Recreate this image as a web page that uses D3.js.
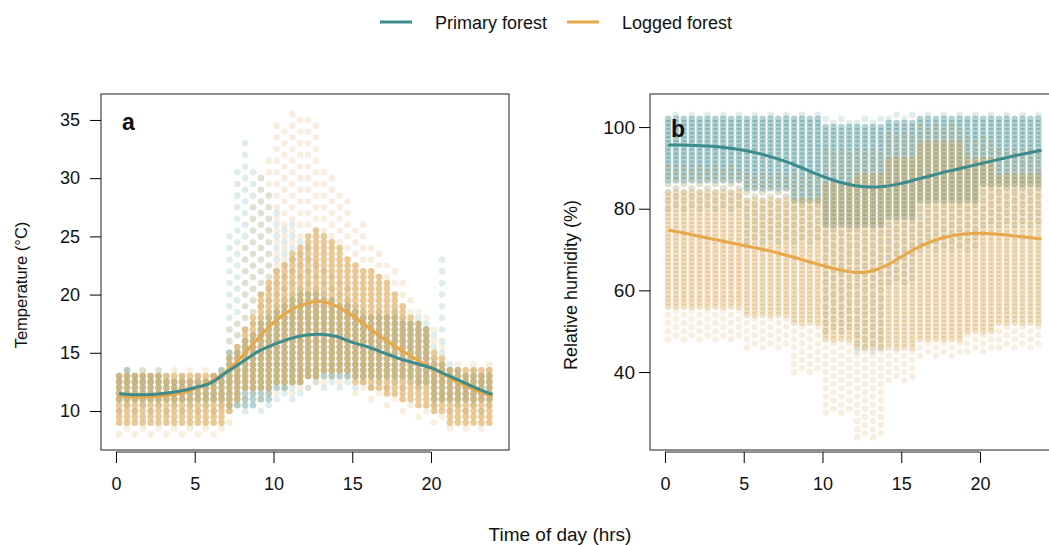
<!DOCTYPE html>
<html>
<head>
<meta charset="utf-8">
<script src="https://cdn.jsdelivr.net/npm/d3@7"></script>
<style>
  body { margin: 0; background: #fff; }
  text { font-family: "Liberation Sans", Arial, Helvetica, sans-serif; fill: #111; }
</style>
</head>
<body>
<div id="chart"></div>
<script>
// half-hourly logger columns (hrs)
var colTimes = d3.range(48).map(function(i) { return 0.2 + 0.5 * i; });
// smoother fit points (hrs)
var lineTimes = [0.2,1,2,3,4,5,6,7,8,9,10,11,12,13,14,15,16,17,18,19,20,21,22,23,23.9];

// ---- panel a : temperature (C), read per column: dense core + sparse tails
var tempPrimCoreLo = [11,11,11,11,11,11,11,11,11,11,11,11,11,11,10.5,10.5,10.5,10.5,11,11,12,12,12.5,12.5,13,13,13,13,13,13,13,13,13,13,13,13,13,13,12.5,12.5,11,11,11,11,11,11,11,11];
var tempPrimCoreHi = [13,13.5,13,13,13,13,12.5,12.5,12.5,12.5,12.5,12.5,13,13.5,15,15,16,16.5,17.5,18,18.5,19,19.5,20,20,20,19.5,19.5,19,19,18.5,18,18,18,18,18,17.5,17.5,17.5,17,14,14,13.5,13.5,13,13,13,13];
var tempPrimTailLo = [10,10,10,10,10,10,10,10,10,10,10,10,10,10,10,10,10,10,10,10,11,11,11,11,12,12,12,12,12,12,12,12,12,12,12,12,12,12,12,12,10.5,10.5,10,10,10,10,10,10];
var tempPrimTailHi = [13.5,14,13.5,13.5,13.5,13.5,13,13,13,13,13,13,13.5,14,25,31,33,31,30,29,27,26,26,25,24,23,22,22,21,21,19,18.5,18.5,18.5,18.5,18.5,18,18,18,17.5,17,23.5,14,14,13.5,13.5,13.5,13.5];

var tempLogCoreLo = [9,9,9,9,9,9,9,9,9,9,9,9,9,9,10,11,12,12,12,12,12.5,12.5,12.5,12.5,13,13,13.5,13.5,13.5,13.5,12.5,12.5,12,12,11.5,11.5,11,11,10.5,10.5,10,10,9,9,9,9,9,9];
var tempLogCoreHi = [13,13,13,13,13,13,13,13,13,13,13,13,13,13,14.5,15.5,17,18,20,21,22,22.5,23.5,24,25,25.5,25,24.5,24,23,22.5,22,22,21.5,21,20,19,18,17.5,17,15,14.5,13.5,13.5,13.5,13.5,13.5,13.5];
var tempLogTailLo = [8,8,8,8,8,8,8,8,8,8,8,8,8,8,9,10,11,11,11,11,11.5,11.5,11.5,11.5,12,12,12.5,12.5,12.5,12.5,11.5,11.5,11,11,10.5,10.5,10,10,9.5,9.5,9,9,8.5,8.5,8.5,8.5,8.5,8.5];
var tempLogTailHi = [13.5,13.5,13.5,13.5,13.5,13.5,13.5,13.5,13.5,13.5,13.5,13.5,13.5,13.5,17,18,24,28,30,32,35,34,36,35,35.5,35,31,30,29,28,26,26,24,23.5,23,22,21,20,19,18,17,16,14,14,14,14,14,14];

var tempPrimLine = [11.5,11.4,11.4,11.5,11.7,12.0,12.4,13.3,14.2,15.1,15.7,16.2,16.5,16.6,16.4,15.9,15.5,15.0,14.5,14.1,13.7,13.1,12.5,11.9,11.4];
var tempLogLine  = [11.3,11.2,11.2,11.3,11.5,11.9,12.5,13.4,14.7,16.2,17.6,18.6,19.2,19.4,19.0,18.2,17.2,16.2,15.3,14.5,13.7,13.0,12.3,11.7,11.2];

// ---- panel b : relative humidity (%)
var rhPrimCoreLo = [87,87,87,87,87,87,87,87,87,87,85,85,85,85,85,85,82,82,82,82,76,76,76,76,76,76,76,76,78,78,78,78,82,82,82,82,82,82,82,82,86,86,86,86,86,86,86,86];
var rhPrimCoreHi = [102,102,102,102,102,102,102,102,102,102,102,102,102,102,102,102,102,102,102,102,100,100,100,100,100,100,100,100,101,101,101,101,102,102,102,102,102,102,102,102,102,102,102,102,102,102,102,102];
var rhPrimTailLo = [80,80,80,80,80,80,80,80,80,80,72,72,72,72,72,72,72,72,72,72,50,50,50,50,45,45,45,45,62,62,62,62,70,70,70,70,70,70,70,70,76,76,76,76,76,76,76,76];
var rhPrimTailHi = [103,103,103,103,103,103,103,103,103,103,103,103,103,103,103,103,103,103,103,103,102,102,102,102,102,102,102,102,103,103,103,103,103,103,103,103,103,103,103,103,103,103,103,103,103,103,103,103];

var rhLogCoreLo = [56,56,56,56,56,56,56,56,56,56,54,54,54,54,54,54,52,52,52,52,48,48,48,48,46,46,46,46,46,46,46,46,48,48,48,48,48,48,50,50,50,50,52,52,52,52,52,52];
var rhLogCoreHi = [84,84,84,84,84,84,84,84,84,84,82,82,82,82,82,82,82,82,82,82,86,86,86,86,88,88,88,88,92,92,92,92,96,96,96,96,96,96,92,92,92,92,88,88,88,88,88,88];
var rhLogTailLo = [48,48,48,48,48,48,48,48,48,48,46,46,46,46,46,46,40,40,40,40,30,30,30,30,24,24,24,24,38,38,38,38,44,44,44,44,44,44,45,45,45,45,46,46,46,46,46,46];
var rhLogTailHi = [90,90,90,90,90,90,90,90,90,90,88,88,88,88,88,88,88,88,88,88,94,94,94,94,94,94,94,94,98,98,98,98,100,100,100,100,100,100,97,97,97,97,94,94,94,94,94,94];

var rhPrimLine = [95.6,95.6,95.5,95.3,94.9,94.3,93.5,92.4,91.1,89.5,87.9,86.6,85.7,85.3,85.5,86.2,87.2,88.2,89.2,90.1,91.0,91.9,92.8,93.6,94.3];
var rhLogLine  = [74.8,74.2,73.4,72.6,71.8,71.0,70.2,69.3,68.3,67.2,66.1,65.1,64.4,64.6,66.0,68.2,70.4,72.1,73.2,73.8,74.0,73.8,73.4,73.0,72.6];

var seriesNames = ["Primary forest", "Logged forest"];
var primCol = "#3c8c8e", logCol = "#e6a84a";
var primDot = "#4a9396", logDot = "#dca24a";

var W = 1049, H = 545;
var svg = d3.select("#chart").append("svg").attr("width", W).attr("height", H);

// expand a column's read extents into dots at the logger resolution;
// tails are sparse, so only every other reading step is drawn there
function columnDots(lo, hi, tlo, thi, step) {
	var out = [];
	colTimes.forEach(function(t, i) {
		var k = 0;
		for (var v = tlo[i]; v <= thi[i] + 1e-9; v += step, k++) {
			var core = v >= lo[i] - 1e-9 && v <= hi[i] + 1e-9;
			if (!core && (k + i) % 2) continue;
			out.push({t: t, v: v, core: core});
		}
	});
	return out;
}

function panel(opt) {
	var x = d3.scaleLinear().domain([-0.95, 24.95]).range([opt.left, opt.left + 408]);
	var y = d3.scaleLinear().domain(opt.ydom).range([450, 94]);
	var g = svg.append("g");

	g.append("defs").append("clipPath").attr("id", opt.id)
		.append("rect").attr("x", opt.left).attr("y", 94).attr("width", 408).attr("height", 356);
	var plot = g.append("g").attr("clip-path", "url(#" + opt.id + ")");

	opt.series.forEach(function(s) {
		plot.append("g").selectAll("circle")
			.data(columnDots(s.lo, s.hi, s.tlo, s.thi, opt.step))
			.enter().append("circle")
			.attr("cx", function(d) { return x(d.t); })
			.attr("cy", function(d) { return y(d.v); })
			.attr("r", 3.3)
			.attr("fill", s.dot)
			.attr("fill-opacity", function(d) { return d.core ? s.coreOp : 0.17; });
	});

	var line = d3.line()
		.x(function(d) { return x(d[0]); })
		.y(function(d) { return y(d[1]); })
		.curve(d3.curveCatmullRom);
	[opt.logLine, opt.primLine].forEach(function(vals, k) {
		plot.append("path")
			.datum(lineTimes.map(function(t, i) { return [t, vals[i]]; }))
			.attr("d", line)
			.attr("fill", "none")
			.attr("stroke", k === 0 ? logCol : primCol)
			.attr("stroke-width", 3);
	});

	// frame
	g.append("rect").attr("x", opt.left).attr("y", 94).attr("width", 408).attr("height", 356)
		.attr("fill", "none").attr("stroke", "#444").attr("stroke-width", 1.2);

	var xAxis = g.append("g").attr("transform", "translate(0,452)")
		.call(d3.axisBottom(x).tickValues([0, 5, 10, 15, 20]).tickSize(11).tickPadding(14).tickSizeOuter(0));
	xAxis.select(".domain").attr("d", "M" + x(0) + ",0H" + x(20)).attr("stroke", "#222");
	xAxis.selectAll("text").style("font-size", "18px").style("fill", "#111");

	var yAxis = g.append("g").attr("transform", "translate(" + opt.left + ",0)")
		.call(d3.axisLeft(y).tickValues(opt.yticks).tickSize(11).tickPadding(opt.pad).tickSizeOuter(0));
	yAxis.select(".domain").remove();
	yAxis.selectAll("text").style("font-size", opt.tickFont).style("fill", "#111");

	g.append("text").attr("transform", "translate(" + opt.titleX + ",285) rotate(-90)")
		.attr("text-anchor", "middle").style("font-size", opt.titleFont).text(opt.title);

	g.append("text").attr("x", opt.left + 21).attr("y", opt.letterY)
		.style("font-size", "23px").style("font-weight", "bold").text(opt.letter);
}

panel({
	id: "clipa", left: 101, ydom: [6.65, 37.23], yticks: [10, 15, 20, 25, 30, 35], step: 0.5,
	pad: 10, tickFont: "18px",
	title: "Temperature (\u00b0C)", titleX: 27, titleFont: "16.5px", letter: "a", letterY: 130,
	series: [
		{lo: tempPrimCoreLo, hi: tempPrimCoreHi, tlo: tempPrimTailLo, thi: tempPrimTailHi, dot: primDot, coreOp: 0.42},
		{lo: tempLogCoreLo, hi: tempLogCoreHi, tlo: tempLogTailLo, thi: tempLogTailHi, dot: logDot, coreOp: 0.58}
	],
	primLine: tempPrimLine, logLine: tempLogLine
});

panel({
	id: "clipb", left: 650, ydom: [20.9, 108.1], yticks: [40, 60, 80, 100], step: 1,
	pad: 4, tickFont: "19px",
	title: "Relative humidity (%)", titleX: 577, titleFont: "18px", letter: "b", letterY: 137,
	series: [
		{lo: rhPrimCoreLo, hi: rhPrimCoreHi, tlo: rhPrimTailLo, thi: rhPrimTailHi, dot: primDot, coreOp: 0.42},
		{lo: rhLogCoreLo, hi: rhLogCoreHi, tlo: rhLogTailLo, thi: rhLogTailHi, dot: logDot, coreOp: 0.33}
	],
	primLine: rhPrimLine, logLine: rhLogLine
});

// shared x title
svg.append("text").attr("x", 560).attr("y", 541).attr("text-anchor", "middle")
	.style("font-size", "19px").text("Time of day (hrs)");

// legend
var legend = svg.append("g");
var legX = [380, 567];
seriesNames.forEach(function(name, i) {
	legend.append("line").attr("x1", legX[i]).attr("x2", legX[i] + 32).attr("y1", 22).attr("y2", 22)
		.attr("stroke", i === 0 ? primCol : logCol).attr("stroke-width", 3);
	legend.append("text").attr("x", legX[i] + 55).attr("y", 29).style("font-size", "18px").text(name);
});
</script>
</body>
</html>
